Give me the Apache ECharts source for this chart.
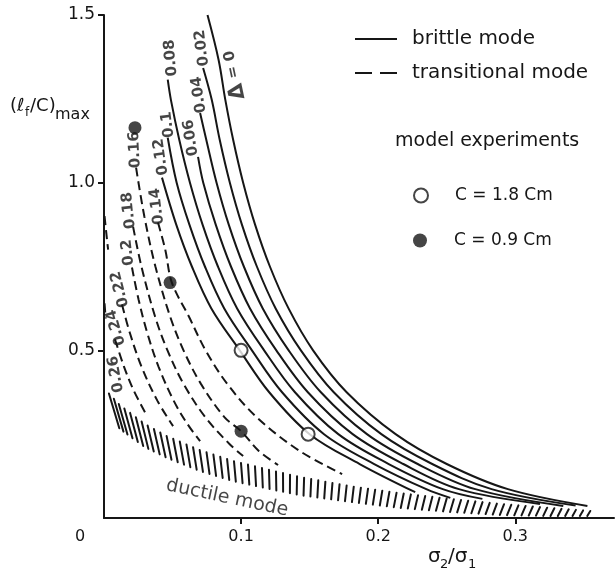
<!DOCTYPE html>
<html><head><meta charset="utf-8">
<script src="https://cdn.jsdelivr.net/npm/echarts@6/dist/echarts.min.js"></script>
<style>html,body{margin:0;padding:0;background:#fff}#c{width:615px;height:578px}</style>
</head><body><div id="c"></div>
<script>
// ---------- data ----------
const xTickValues = [0, 0.1, 0.2, 0.3];
const xTickLabels = ['0', '0.1', '0.2', '0.3'];
const yTickValues = [0.5, 1.0, 1.5];
const yTickLabels = ['0.5', '1.0', '1.5'];

// brittle mode (solid) curves, Δ = 0 ... 0.12  [σ2/σ1, (lf/C)max]
const brittle_000 = [[0.0755,1.5],[0.0836,1.366],[0.0885,1.247],[0.0942,1.128],[0.1015,1.0],[0.1102,0.875],[0.121,0.75],[0.1346,0.625],[0.1525,0.5],[0.177,0.375],[0.2127,0.25],[0.25,0.161],[0.2946,0.086],[0.3526,0.036]];
const brittle_002 = [[0.0723,1.342],[0.0786,1.247],[0.0844,1.128],[0.0918,1.0],[0.1006,0.875],[0.1115,0.75],[0.1252,0.625],[0.1436,0.5],[0.1676,0.375],[0.2023,0.25],[0.2394,0.161],[0.2827,0.086],[0.344,0.037]];
const brittle_004 = [[0.0701,1.208],[0.0746,1.128],[0.0821,1.0],[0.091,0.875],[0.102,0.75],[0.1158,0.625],[0.1347,0.5],[0.1582,0.375],[0.1918,0.25],[0.2288,0.161],[0.2708,0.086],[0.335,0.036]];
const brittle_006 = [[0.0686,1.077],[0.0724,1.0],[0.0815,0.875],[0.0926,0.75],[0.1065,0.625],[0.1257,0.5],[0.1487,0.375],[0.1814,0.25],[0.2183,0.161],[0.2589,0.086],[0.318,0.042]];
const brittle_008 = [[0.0465,1.307],[0.0488,1.247],[0.0549,1.128],[0.0627,1.0],[0.0719,0.875],[0.0831,0.75],[0.0971,0.625],[0.1168,0.5],[0.1393,0.375],[0.1709,0.25],[0.2077,0.161],[0.2471,0.086],[0.276,0.057]];
const brittle_010 = [[0.0465,1.134],[0.053,1.0],[0.0623,0.875],[0.0736,0.75],[0.0877,0.625],[0.1079,0.5],[0.1299,0.375],[0.1605,0.25],[0.1971,0.161],[0.2351,0.086],[0.2526,0.06]];
const brittle_012 = [[0.0423,1.015],[0.0527,0.875],[0.0641,0.75],[0.0783,0.625],[0.099,0.5],[0.1205,0.375],[0.150,0.25],[0.1865,0.161],[0.227,0.077]];

// transitional mode (dashed) curves, Δ = 0.14 ... 0.26
const trans_014 = [[0.0394,0.881],[0.0447,0.8],[0.0495,0.702],[0.062,0.6],[0.0741,0.5],[0.0899,0.4],[0.1115,0.3],[0.1427,0.2],[0.1737,0.131]];
const trans_016 = [[0.0234,1.045],[0.0294,0.9],[0.0375,0.75],[0.0483,0.6],[0.058,0.5],[0.0707,0.4],[0.088,0.3],[0.1,0.259],[0.1129,0.2],[0.127,0.158]];
const trans_018 = [[0.0212,0.869],[0.0273,0.75],[0.0373,0.6],[0.0463,0.5],[0.058,0.4],[0.074,0.3],[0.0917,0.22],[0.1015,0.185]];
const trans_020 = [[0.0204,0.747],[0.0253,0.65],[0.0317,0.55],[0.0399,0.45],[0.0508,0.35],[0.0609,0.28],[0.0701,0.229]];
const trans_022 = [[0.0131,0.637],[0.019,0.55],[0.0275,0.45],[0.0389,0.35],[0.0504,0.274]];
const trans_024a = [[0.0004,0.9],[0.0018,0.845],[0.003,0.8]];
const trans_024b = [[0.008,0.533],[0.0147,0.45],[0.0217,0.38],[0.0314,0.304]];
const trans_026 = [[0.0004,0.64],[0.0012,0.595]];

// model experiments
const exp_c18 = [[0.1,0.5],[0.1489,0.25]];
const exp_c09 = [[0.0226,1.164],[0.0482,0.702],[0.1,0.259]];

// curve labels and their anchors
const curveLabelText = ['{d|Δ} = 0','0.02','0.04','0.06','0.08','0.1','0.12','0.14','0.16','0.18','0.2','0.22','0.24','0.26'];
const curveLabelAnchor = [[0.0949,1.321],[0.0715,1.402],[0.0693,1.262],[0.0635,1.134],[0.0489,1.372],[0.0467,1.173],[0.0416,1.077],[0.0387,0.929],[0.0226,1.098],[0.0182,0.917],[0.0175,0.792],[0.0117,0.682],[0.0088,0.568],[0.0088,0.429]];
const curveLabelAngle = [102,97,98,98,95,97,98,97,93,96,96,104,106,100];

// ductile-mode hatched band (upper / lower edges)
const ductileUpper = [[0,0.39],[0.0117,0.339],[0.0299,0.283],[0.046,0.247],[0.0701,0.205],[0.0942,0.173],[0.1212,0.146],[0.1431,0.125],[0.1796,0.098],[0.2161,0.077],[0.2526,0.06],[0.2891,0.045],[0.3255,0.033],[0.3547,0.024]];
const ductileLower = [[0,0.318],[0.0117,0.265],[0.0299,0.211],[0.046,0.179],[0.0701,0.14],[0.0942,0.11],[0.1212,0.086],[0.1431,0.068],[0.1796,0.048],[0.2161,0.03],[0.2526,0.018],[0.2891,0.009],[0.3255,0.006],[0.372,0.006]];
const ductileLabelAnchor = [0.0898,0.0595];

// ---------- chart ----------
const INK = '#161616';
const FONT = 'DejaVu Sans';
const chart = echarts.init(document.getElementById('c'), null, {renderer: 'canvas'});

function lineSeries(name, data, dashed) {
  return {
    type: 'line', name: name, data: data, smooth: 0.35, symbol: 'none', clip: false,
    silent: true, z: 3, color: INK,
    lineStyle: {color: INK, width: 2, type: dashed ? [9, 5] : 'solid'}
  };
}

const brittle = [brittle_000, brittle_002, brittle_004, brittle_006, brittle_008, brittle_010, brittle_012]
  .map(d => lineSeries('brittle mode', d, false));
const transitional = [trans_014, trans_016, trans_018, trans_020, trans_022, trans_024a, trans_024b, trans_026]
  .map(d => lineSeries('transitional mode', d, true));

function polyCum(pts) {
  const c = [0];
  for (let i = 1; i < pts.length; i++) {
    c.push(c[i - 1] + Math.hypot(pts[i][0] - pts[i - 1][0], pts[i][1] - pts[i - 1][1]));
  }
  return c;
}
function polyAt(pts, cum, d) {
  for (let i = 1; i < pts.length; i++) {
    if (d <= cum[i] || i === pts.length - 1) {
      const t = (d - cum[i - 1]) / (cum[i] - cum[i - 1] || 1);
      return [pts[i - 1][0] + t * (pts[i][0] - pts[i - 1][0]), pts[i - 1][1] + t * (pts[i][1] - pts[i - 1][1])];
    }
  }
  return pts[pts.length - 1];
}
function yAtX(pts, x) {
  if (x <= pts[0][0]) return pts[0][1];
  for (let i = 1; i < pts.length; i++) {
    if (x <= pts[i][0]) {
      const t = (x - pts[i - 1][0]) / (pts[i][0] - pts[i - 1][0] || 1);
      return pts[i - 1][1] + t * (pts[i][1] - pts[i - 1][1]);
    }
  }
  return pts[pts.length - 1][1];
}

const hatchSeries = {
  type: 'custom', name: 'ductile', silent: true, z: 2,
  data: [[0, 0]], encode: {x: 0, y: 1},
  renderItem: function (params, api) {
    const up = ductileUpper.map(p => api.coord(p));
    const lo = ductileLower.map(p => api.coord(p));
    const cu = polyCum(up);
    const Lu = cu[cu.length - 1];
    const x0 = up[0][0], x1 = up[up.length - 1][0];
    const n = Math.round(Lu / 7.2);
    const children = [];
    for (let k = 1; k <= n; k++) {
      const a = polyAt(up, cu, (k / n) * Lu);
      const lean = 0.3 - 0.8 * (a[0] - x0) / (x1 - x0);
      let bx = a[0], by = yAtX(lo, a[0]);
      for (let it = 0; it < 4; it++) { bx = a[0] + lean * (by - a[1]); by = yAtX(lo, bx); }
      children.push({type: 'line', shape: {x1: a[0], y1: a[1] + 1, x2: bx, y2: by},
        style: {stroke: INK, lineWidth: 2, lineCap: 'round'}});
    }
    return {type: 'group', children: children};
  }
};

const labelSeries = {
  type: 'scatter', name: 'curve labels', silent: true, z: 6, symbolSize: 0,
  data: curveLabelText.map((t, i) => ({value: curveLabelAnchor[i], label: {formatter: t, rotate: curveLabelAngle[i]}}))
    .concat([{value: ductileLabelAnchor, label: {formatter: 'ductile mode', rotate: -12, fontSize: 19, fontWeight: 'normal'}}]),
  label: {show: true, position: 'inside', fontSize: 15, fontWeight: 'bold', color: INK, fontFamily: FONT,
    rich: {d: {fontSize: 21, color: INK, fontFamily: FONT}}}
};

const expOpen = {type: 'scatter', name: 'C = 1.8 Cm', data: exp_c18, symbol: 'circle', symbolSize: 13, z: 8,
  silent: true, itemStyle: {color: '#fff', borderColor: INK, borderWidth: 2}};
const expFilled = {type: 'scatter', name: 'C = 0.9 Cm', data: exp_c09, symbol: 'circle', symbolSize: 13, z: 8,
  silent: true, itemStyle: {color: INK}};

const legendText = {fontSize: 20, color: INK, fontFamily: FONT, padding: [0, 0, 0, 10]};
function legendAt(name, left, top, extra) {
  return Object.assign({
    data: [name], left: left, top: top, orient: 'vertical', padding: 0, selectedMode: false,
    itemWidth: 42, itemHeight: 14, textStyle: legendText
  }, extra || {});
}

const option = {
  animation: false,
  backgroundColor: '#fff',
  grid: {left: 104, right: 1, top: 15, bottom: 60, containLabel: false, outerBoundsMode: 'none'},
  xAxis: {
    type: 'value', min: 0, max: 0.372, interval: 0.1,
    axisLine: {show: true, onZero: false, lineStyle: {color: INK, width: 2}},
    axisTick: {show: true, length: 6, inside: false, customValues: xTickValues.slice(1), lineStyle: {color: INK, width: 2}},
    axisLabel: {show: true, customValues: xTickValues, margin: 11, fontSize: 16, color: INK, fontFamily: FONT,
      formatter: v => { const i = xTickValues.findIndex(t => Math.abs(t - v) < 1e-9); return i === 0 ? '{o|' + xTickLabels[0] + '}' : xTickLabels[i]; },
      rich: {o: {fontSize: 16, color: INK, fontFamily: FONT, padding: [0, 48, 0, 0]}}},
    splitLine: {show: false}
  },
  yAxis: {
    type: 'value', min: 0, max: 1.5, interval: 0.5,
    axisLine: {show: true, onZero: false, lineStyle: {color: INK, width: 2}},
    axisTick: {show: true, length: 6, inside: false, customValues: yTickValues, lineStyle: {color: INK, width: 2}},
    axisLabel: {show: true, customValues: yTickValues, margin: 9, fontSize: 17, color: INK, fontFamily: FONT,
      formatter: v => yTickLabels[yTickValues.findIndex(t => Math.abs(t - v) < 1e-9)]},
    splitLine: {show: false}
  },
  legend: [
    legendAt('brittle mode', 355, 29, {icon: 'path://M0,0H42V2H0Z', itemHeight: 2, itemStyle: {color: INK}}),
    legendAt('transitional mode', 355, 63, {icon: 'path://M0,0H17V2H0Z M25,0H42V2H25Z', itemHeight: 2, itemStyle: {color: INK}}),
    legendAt('C = 1.8 Cm', 413, 187, {itemWidth: 14, itemHeight: 14, icon: 'circle',
      itemStyle: {color: '#fff', borderColor: INK, borderWidth: 2},
      textStyle: {fontSize: 17, color: INK, fontFamily: FONT, padding: [0, 0, 0, 22]}}),
    legendAt('C = 0.9 Cm', 413, 232, {itemWidth: 14, itemHeight: 14, icon: 'circle',
      itemStyle: {color: INK},
      textStyle: {fontSize: 17, color: INK, fontFamily: FONT, padding: [0, 0, 0, 22]}})
  ],
  graphic: [
    {type: 'text', left: 395, top: 132, style: {text: 'model experiments', fontSize: 19, fontFamily: FONT, fill: INK}},
    // y axis name (lf/C)max
    {type: 'text', x: 10, y: 106, style: {text: '(ℓ', fontSize: 18, fontFamily: FONT, fill: INK, verticalAlign: 'middle', textVerticalAlign: 'middle'}},
    {type: 'text', x: 25, y: 113, style: {text: 'f', fontSize: 12, fontFamily: FONT, fill: INK, verticalAlign: 'middle', textVerticalAlign: 'middle'}},
    {type: 'text', x: 30, y: 106, style: {text: '/C)', fontSize: 18, fontFamily: FONT, fill: INK, verticalAlign: 'middle', textVerticalAlign: 'middle'}},
    {type: 'text', x: 55, y: 115, style: {text: 'max', fontSize: 16, fontFamily: FONT, fill: INK, verticalAlign: 'middle', textVerticalAlign: 'middle'}},
    // x axis name σ2/σ1
    {type: 'text', x: 428, y: 557, style: {text: 'σ', fontSize: 20, fontFamily: FONT, fill: INK, verticalAlign: 'middle', textVerticalAlign: 'middle'}},
    {type: 'text', x: 440, y: 565, style: {text: '2', fontSize: 13, fontFamily: FONT, fill: INK, verticalAlign: 'middle', textVerticalAlign: 'middle'}},
    {type: 'text', x: 448, y: 557, style: {text: '/σ', fontSize: 20, fontFamily: FONT, fill: INK, verticalAlign: 'middle', textVerticalAlign: 'middle'}},
    {type: 'text', x: 468, y: 565, style: {text: '1', fontSize: 13, fontFamily: FONT, fill: INK, verticalAlign: 'middle', textVerticalAlign: 'middle'}}
  ],
  series: [hatchSeries].concat(brittle, transitional, [expOpen, expFilled, labelSeries])
};
chart.setOption(option);
</script>
</body></html>
